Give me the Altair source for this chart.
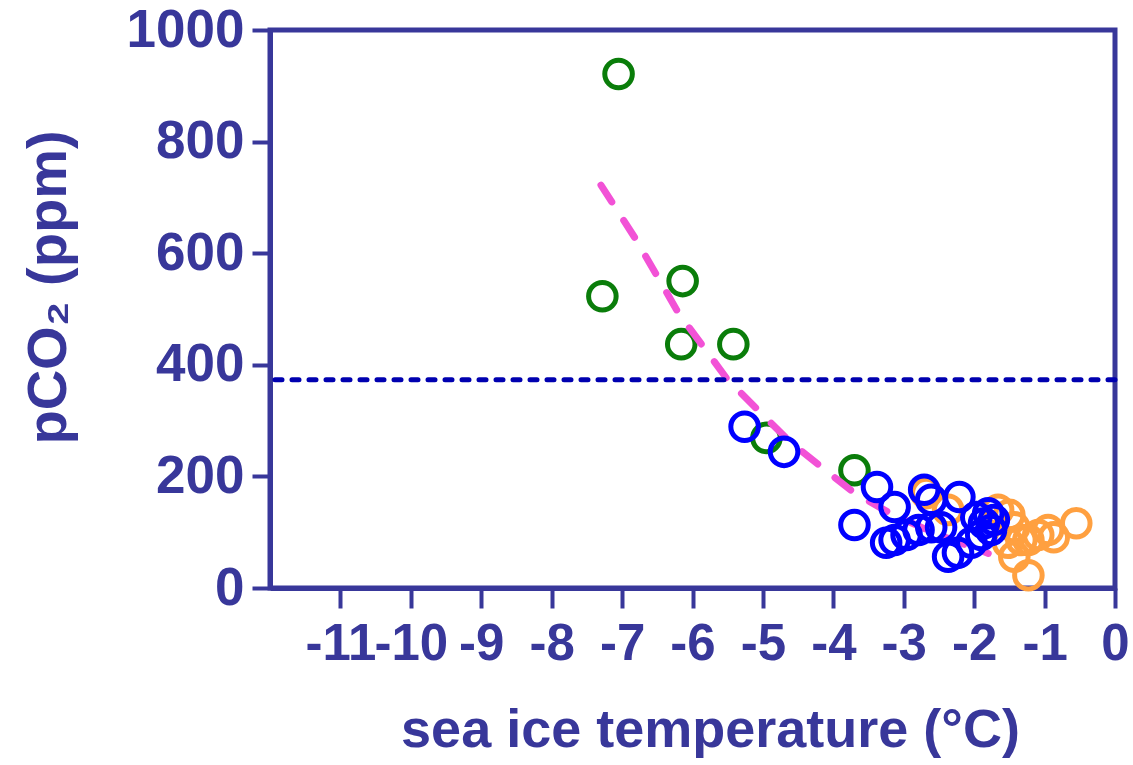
import altair as alt
import pandas as pd

# green series
green_x = [-7.05, -7.28, -6.14, -6.16, -5.42, -4.95, -3.70]
green_y = [921, 523, 550, 437, 437, 269, 211]

# blue series
blue_x = [-5.26, -4.70, -3.38, -3.70, -3.13, -3.25, -3.13, -2.96, -2.79, -2.71, -2.61,
          -2.61, -2.47, -2.37, -2.21, -1.97, -1.80, -1.76, -2.04, -2.23, -1.86, -1.90, -1.72]
blue_y = [289, 244, 181, 113, 145, 81, 86, 95, 104, 176, 158,
          109, 109, 56, 163, 127, 134, 104, 81, 63, 116, 95, 122]

# orange series
orange_x = [-2.68, -2.37, -1.66, -1.50, -1.43, -1.52, -1.43, -1.23, -1.23, -1.09, -0.95,
            -0.87, -0.55, -1.33]
orange_y = [170, 140, 140, 131, 109, 81, 56, 23, 86, 95, 104,
            91, 116, 86]

# fitted curve (pink dashed)
fit_x = [-7.3, -6.8, -6.2, -5.5, -4.6, -3.7, -3.15, -2.5, -1.8]
fit_y = [722, 624, 493, 373, 260, 170, 131, 95, 62]

# atmospheric reference
ref_y = [373]

x_ticks = list(range(-11, 1))
y_ticks = [0, 200, 400, 600, 800, 1000]

AX = "#38379a"

green = pd.DataFrame({"x": green_x, "y": green_y})
blue = pd.DataFrame({"x": blue_x, "y": blue_y})
orange = pd.DataFrame({"x": orange_x, "y": orange_y})
fit = pd.DataFrame({"x": fit_x, "y": fit_y})
ref = pd.DataFrame({"y": ref_y})

xs = alt.Scale(domain=[-12, 0], nice=False, zero=False)
ys = alt.Scale(domain=[0, 1000], nice=False)

xaxis = alt.Axis(
    values=x_ticks, title="sea ice temperature (°C)", grid=False,
    labelExpr="datum.value < 0 ? '-' + abs(datum.value) : '' + datum.value",
    domainColor=AX, domainWidth=5, tickColor=AX, tickWidth=4, tickSize=20,
    labelColor=AX, labelFont="Liberation Sans Narrow, Liberation Sans", labelFontSize=51,
    labelFontWeight="bold", labelPadding=11, labelOverlap=False, labelFlush=False,
    titleColor=AX, titleFont="Liberation Sans", titleFontSize=54, titleFontWeight="bold",
    titleX=440, titleY=142, titleBaseline="middle", titleAlign="center",
)
yaxis = alt.Axis(
    values=y_ticks, title="pCO₂ (ppm)", grid=False, format="d",
    domainColor=AX, domainWidth=5, tickColor=AX, tickWidth=4, tickSize=18,
    labelColor=AX, labelFont="Liberation Sans", labelFontSize=53, labelFontWeight="bold",
    labelPadding=8, labelOverlap=False, labelFlush=False,
    titleColor=AX, titleFont="Liberation Sans", titleFontSize=56, titleFontWeight="bold",
    titleX=-222, titleY=257, titleBaseline="middle", titleAlign="center", titleAngle=-90,
)

def pts(df, color):
    return alt.Chart(df).mark_point(
        shape="circle", filled=False, size=760, strokeWidth=5, color=color, opacity=1
    ).encode(x=alt.X("x:Q", scale=xs, axis=xaxis), y=alt.Y("y:Q", scale=ys, axis=yaxis))

g = pts(green, "#0a7d0a")
o = pts(orange, "#ffa040")
b = pts(blue, "#0000ff")
line = alt.Chart(fit).mark_line(
    color="#f252d6", strokeWidth=7, strokeDash=[20, 22], strokeCap="round"
).encode(x=alt.X("x:Q", scale=xs), y=alt.Y("y:Q", scale=ys))
rule = alt.Chart(ref).mark_rule(
    color="#0000b0", strokeWidth=5, strokeDash=[7, 10], strokeCap="round"
).encode(y=alt.Y("y:Q", scale=ys))

chart = alt.layer(g, o, line, b, rule).properties(
    width=845, height=558,
    autosize=alt.AutoSizeParams(type="none"),
    padding={"left": 270, "top": 30, "right": 18, "bottom": 177},
    background="white",
).configure_view(stroke=AX, strokeWidth=5)

chart.save("out.html", embed_options={"renderer": "svg", "actions": False})
